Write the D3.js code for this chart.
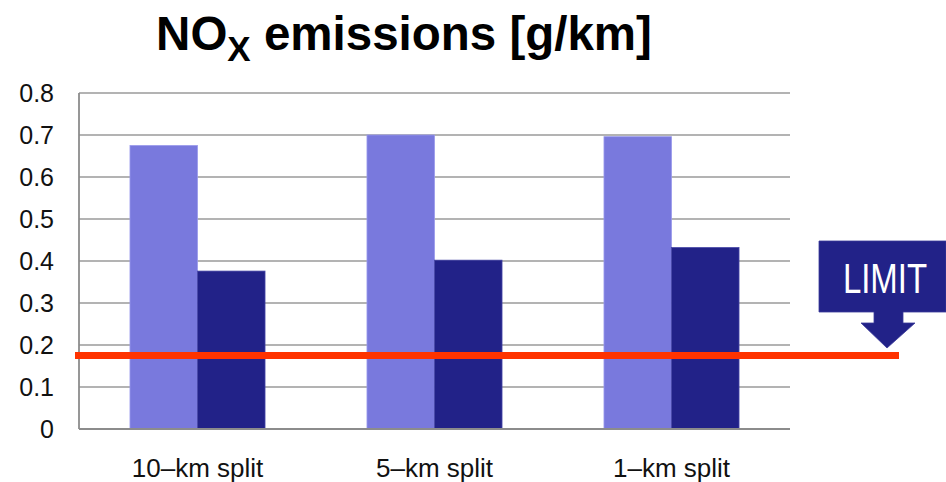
<!DOCTYPE html>
<html>
<head>
<meta charset="utf-8">
<script src="https://cdn.jsdelivr.net/npm/d3@7"></script>
<style>
  html, body { margin: 0; padding: 0; background: #fff; }
  svg { display: block; font-family: "Liberation Sans", Arial, Helvetica, sans-serif; }
</style>
</head>
<body>
<svg id="chart" width="946" height="482"></svg>
<script>
const categories = ["10\u2013km split", "5\u2013km split", "1\u2013km split"];
const seriesNames = ["Series A", "Series B"];
const seriesA = [0.675, 0.700, 0.696];
const seriesB = [0.376, 0.402, 0.432];
const limitValue = 0.175;
const yTicks = [0, 0.1, 0.2, 0.3, 0.4, 0.5, 0.6, 0.7, 0.8];
const colors = ["#7979DD", "#222288"];

const svg = d3.select("#chart");
const plot = { left: 79, right: 790, top: 93, bottom: 429 };

const y = d3.scaleLinear().domain([0, 0.8]).range([plot.bottom, plot.top]);
const x0 = d3.scaleBand().domain(categories).range([plot.left, plot.right]).padding(0);
const x1 = d3.scaleBand().domain(seriesNames).range([0, x0.bandwidth()])
  .paddingInner(0).paddingOuter(0.755);

// gridlines
svg.append("g").selectAll("line").data(yTicks).join("line")
  .attr("x1", plot.left).attr("x2", plot.right)
  .attr("y1", d => y(d)).attr("y2", d => y(d))
  .attr("stroke", "#9a9a9a").attr("stroke-width", 1.6);

// left axis line
svg.append("line")
  .attr("x1", plot.left).attr("x2", plot.left)
  .attr("y1", y(0.8)).attr("y2", y(0))
  .attr("stroke", "#8c8c8c").attr("stroke-width", 1.8);

// y tick labels
svg.append("g").selectAll("text").data(yTicks).join("text")
  .attr("x", 54).attr("y", d => y(d))
  .attr("dy", "0.36em")
  .attr("text-anchor", "end")
  .attr("font-size", 25)
  .attr("fill", "#111")
  .text(d => d === 0 ? "0" : d3.format(".1f")(d));

// bars
const rows = categories.map((c, i) => ({ cat: c, vals: [seriesA[i], seriesB[i]] }));
const groups = svg.append("g").selectAll("g").data(rows).join("g")
  .attr("transform", d => `translate(${x0(d.cat)},0)`);
groups.selectAll("rect").data(d => d.vals.map((v, j) => ({ name: seriesNames[j], v, j }))).join("rect")
  .attr("x", d => x1(d.name))
  .attr("width", x1.bandwidth())
  .attr("y", d => y(d.v))
  .attr("height", d => y(0) - y(d.v))
  .attr("fill", d => colors[d.j])
  .attr("stroke", d => d.j === 0 ? "#9a9aec" : "#4646a6")
  .attr("stroke-width", 0.8);

// bottom axis line
svg.append("line")
  .attr("x1", plot.left).attr("x2", plot.right)
  .attr("y1", y(0)).attr("y2", y(0))
  .attr("stroke", "#8c8c8c").attr("stroke-width", 1.8);

// x labels
svg.append("g").selectAll("text").data(categories).join("text")
  .attr("x", d => x0(d) + x0.bandwidth() / 2)
  .attr("y", 477)
  .attr("text-anchor", "middle")
  .attr("font-size", 26)
  .attr("fill", "#111")
  .text(d => d);

// limit line
svg.append("line")
  .attr("x1", 75).attr("x2", 899)
  .attr("y1", y(limitValue)).attr("y2", y(limitValue))
  .attr("stroke", "#FF3300").attr("stroke-width", 7);

// LIMIT callout
const callout = svg.append("g");
callout.append("path")
  .attr("d", "M819,241 L946,241 L946,312 L903,312 L903,323 L915,323 L887,348 L861,323 L874,323 L874,312 L819,312 Z")
  .attr("fill", "#222288")
  .attr("stroke", "#3a3a9a").attr("stroke-width", 0.8);
callout.append("text")
  .attr("transform", "translate(885,293) scale(0.97,1.24)")
  .attr("text-anchor", "middle")
  .attr("font-size", 34)
  .attr("fill", "#fff")
  .text("LIMIT");

// title
const title = svg.append("text")
  .attr("x", 404).attr("y", 50)
  .attr("text-anchor", "middle")
  .attr("font-size", 47.5)
  .attr("font-weight", "bold")
  .attr("fill", "#000");
title.append("tspan").text("NO");
title.append("tspan").attr("dy", 11).attr("font-size", 35).text("X");
title.append("tspan").attr("dy", -11).text(" emissions [g/km]");
</script>
</body>
</html>
